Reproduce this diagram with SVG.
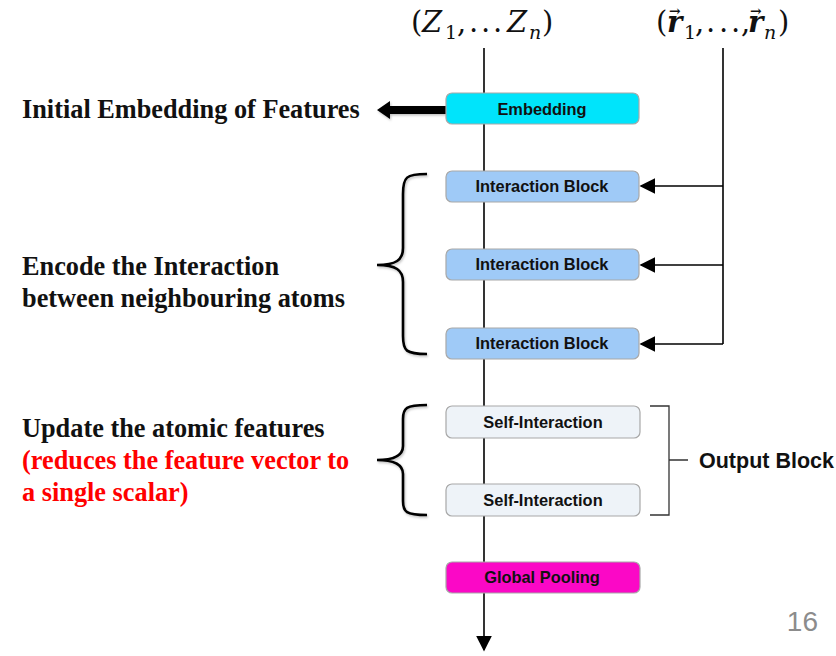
<svg xmlns="http://www.w3.org/2000/svg" width="836" height="656" viewBox="0 0 836 656">
  <defs>
    <marker id="triBig" viewBox="0 0 10 10" refX="9" refY="5" markerWidth="16" markerHeight="16" markerUnits="userSpaceOnUse" orient="auto">
      <path d="M0,0 L10,5 L0,10 Z" fill="#000"/>
    </marker>
    <filter id="soft" x="-10%" y="-20%" width="130%" height="150%">
      <feDropShadow dx="1" dy="1.5" stdDeviation="1.2" flood-color="#000" flood-opacity="0.25"/>
    </filter>
  </defs>
  <style>
    .box { stroke: #a8a8a8; stroke-width: 1.2; }
    .lbl { font-family: "Liberation Sans", Arial, sans-serif; font-weight: bold; font-size: 16.4px; fill: #111; text-anchor: middle; }
    .note { font-family: "Liberation Serif", "Times New Roman", serif; font-weight: bold; font-size: 26.3px; fill: #111; }
    .red { fill: #ff0000; }
    .math { font-family: "DejaVu Serif", "Liberation Serif", serif; font-size: 29px; fill: #111; }
    .it { font-style: italic; }
    .sub { font-size: 19px; }
    .vec { font-size: 14px; font-weight: bold; font-style: normal; }
    .wire { stroke: #000; stroke-width: 1.6; fill: none; }
    .brace { stroke: #000; stroke-width: 2.6; fill: none; }
  </style>

  <!-- input symbols: (Z_1, ... Z_n) -->
  <text id="atomic-numbers" class="math"><tspan x="411" y="32">(</tspan><tspan class="it" x="422" y="32">Z</tspan><tspan class="sub" x="445" y="39">1</tspan><tspan x="457" y="32">,</tspan><tspan x="469" y="32">.</tspan><tspan x="481" y="32">.</tspan><tspan x="493" y="32">.</tspan><tspan class="it" x="507" y="32">Z</tspan><tspan class="sub it" x="529" y="39">n</tspan><tspan x="542" y="32">)</tspan></text>

  <!-- input symbols: (r_1, ..., r_n) with vector accents -->
  <text id="positions" class="math"><tspan x="656" y="32">(</tspan><tspan class="it" font-weight="bold" x="667" y="32">r</tspan><tspan class="vec" x="669" y="16">→</tspan><tspan class="sub" x="684" y="39">1</tspan><tspan x="695" y="32">,</tspan><tspan x="706" y="32">.</tspan><tspan x="719" y="32">.</tspan><tspan x="731" y="32">.</tspan><tspan x="741" y="32">,</tspan><tspan class="it" font-weight="bold" x="748" y="32">r</tspan><tspan class="vec" x="750" y="16">→</tspan><tspan class="sub it" x="764" y="39">n</tspan><tspan x="778" y="32">)</tspan></text>

  <!-- connectors -->
  <g id="connectors">
    <line class="wire" x1="484" y1="48" x2="484" y2="650" marker-end="url(#triBig)"/>
    <line class="wire" x1="723" y1="48" x2="723" y2="344"/>
    <line class="wire" x1="723" y1="186" x2="641" y2="186" marker-end="url(#triBig)"/>
    <line class="wire" x1="723" y1="265" x2="641" y2="265" marker-end="url(#triBig)"/>
    <line class="wire" x1="723" y1="344" x2="641" y2="344" marker-end="url(#triBig)"/>
    <path d="M446,106 H390 V101 L377,110 L390,119 V114 H446 Z" fill="#000" filter="url(#soft)"/>
  </g>

  <!-- blocks -->
  <g id="embedding">
    <rect class="box" x="446" y="93" width="193" height="31" rx="6" fill="#00e4fb"/>
    <text class="lbl" x="542" y="115">Embedding</text>
  </g>
  <g id="interaction1">
    <rect class="box" x="446" y="171" width="193" height="31" rx="6" fill="#9fcaf7"/>
    <text class="lbl" x="542" y="192">Interaction Block</text>
  </g>
  <g id="interaction2">
    <rect class="box" x="446" y="249" width="193" height="31" rx="6" fill="#9fcaf7"/>
    <text class="lbl" x="542" y="270">Interaction Block</text>
  </g>
  <g id="interaction3">
    <rect class="box" x="446" y="328" width="193" height="31" rx="6" fill="#9fcaf7"/>
    <text class="lbl" x="542" y="349">Interaction Block</text>
  </g>
  <g id="self1">
    <rect class="box" x="446" y="406" width="194" height="32" rx="6" fill="#eef3f8"/>
    <text class="lbl" x="543" y="428">Self-Interaction</text>
  </g>
  <g id="self2">
    <rect class="box" x="446" y="484" width="194" height="32" rx="6" fill="#eef3f8"/>
    <text class="lbl" x="543" y="506">Self-Interaction</text>
  </g>
  <g id="pooling">
    <rect class="box" x="446" y="562" width="194" height="31" rx="6" fill="#fb08c6"/>
    <text class="lbl" x="542" y="583">Global Pooling</text>
  </g>

  <!-- output block bracket -->
  <g id="output-block">
    <path d="M650,406 H669 V515 H650 M669,460 H688" stroke="#333" stroke-width="1.3" fill="none"/>
    <text x="699" y="468" font-family="Liberation Sans, Arial, sans-serif" font-weight="bold" font-size="21.5" fill="#111">Output Block</text>
  </g>

  <!-- curly braces -->
  <g id="braces" filter="url(#soft)">
    <path class="brace" d="M427,174 C406,174 403,177 403,194 V248 C403,260 396,265 377,265 C396,265 403,270 403,282 V336 C403,351 406,354 427,354"/>
    <path class="brace" d="M427,405 C406,405 403,408 403,419 V446 C403,455 396,460 377,460 C396,460 403,465 403,474 V501 C403,512 406,515 427,515"/>
  </g>

  <!-- side notes -->
  <text class="note" x="22" y="118">Initial Embedding of Features</text>
  <text class="note" x="22" y="275">Encode the Interaction</text>
  <text class="note" x="22" y="307">between neighbouring atoms</text>
  <text class="note" x="22" y="437">Update the atomic features</text>
  <text class="note red" x="22" y="469">(reduces the feature vector to</text>
  <text class="note red" x="22" y="501">a single scalar)</text>

  <text x="818" y="631" text-anchor="end" font-family="Liberation Sans, Arial, sans-serif" font-size="28" fill="#8c8c8c">16</text>
</svg>
